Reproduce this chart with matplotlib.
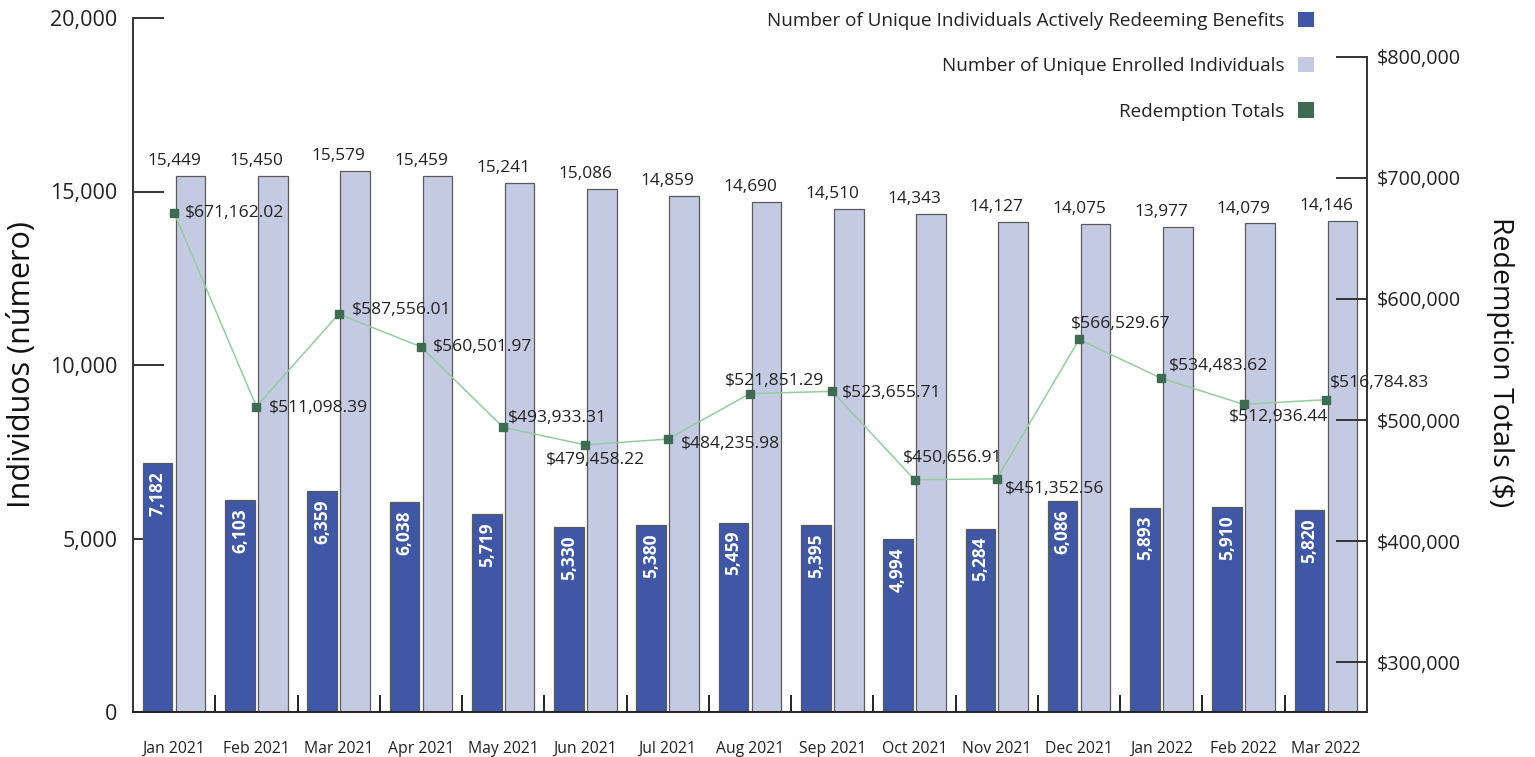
import matplotlib
matplotlib.use("Agg")
import matplotlib.pyplot as plt
import numpy as np
from matplotlib.ticker import FixedLocator, FuncFormatter
from matplotlib.patches import Patch

months = ["Jan 2021", "Feb 2021", "Mar 2021", "Apr 2021", "May 2021", "Jun 2021",
          "Jul 2021", "Aug 2021", "Sep 2021", "Oct 2021", "Nov 2021", "Dec 2021",
          "Jan 2022", "Feb 2022", "Mar 2022"]
active = [7182, 6103, 6359, 6038, 5719, 5330, 5380, 5459, 5395, 4994, 5284, 6086, 5893, 5910, 5820]
enrolled = [15449, 15450, 15579, 15459, 15241, 15086, 14859, 14690, 14510, 14343, 14127, 14075, 13977, 14079, 14146]
redemption = [671162.02, 511098.39, 587556.01, 560501.97, 493933.31, 479458.22, 484235.98,
              521851.29, 523655.71, 450656.91, 451352.56, 566529.67, 534483.62, 512936.44, 516784.83]
left_ticks = [0, 5000, 10000, 15000, 20000]
right_ticks = [300000, 400000, 500000, 600000, 700000, 800000]
series_names = ["Number of Unique Individuals Actively Redeeming Benefits",
                "Number of Unique Enrolled Individuals", "Redemption Totals"]

# label offsets for redemption labels (pixels: dx from marker to label left edge, dy up)
red_offsets = [(11, 0), (12, -1), (13, 4), (12, 0), (5, 9), (-40, -15), (13, -5),
               (-25, 13), (10, -2), (-12, 22), (8, -10), (-8, 15), (8, 12), (-15, -13), (4, 17)]

DARK = "#3f57a4"
LIGHT = "#c5cae3"
GREEN_M = "#3e6b52"
GREEN_L = "#95cc9f"
EDGE = "#5a5a5a"
FONT = "Open Sans"

W, H = 1535, 757
fig = plt.figure(figsize=(W / 100, H / 100), dpi=100)
ax = fig.add_axes([133 / W, 1 - 712 / H, (1367 - 133) / W, (712 - 18) / H])
ax2 = ax.twinx()

x = np.arange(len(months))
bw = 0.36
ax.bar(x - 0.2, active, width=bw, color=DARK, edgecolor=EDGE, linewidth=0.9, zorder=2)
ax.bar(x + 0.2, enrolled, width=bw, color=LIGHT, edgecolor=EDGE, linewidth=0.9, zorder=2)
ax.set_xlim(-0.5, len(months) - 0.5)
ax.set_ylim(0, 20000)

# right axis scale
ax2.set_ylim(258678, 832231)
ax2.plot(x, redemption, color=GREEN_L, linewidth=1.1, zorder=3)
ax2.plot(x, redemption, linestyle="none", marker="s", markersize=5.5, color=GREEN_M, zorder=4)

# labels
for i in range(len(x)):
    ax.annotate(f"{enrolled[i]:,}", (x[i], enrolled[i]), xytext=(0, 5), textcoords="offset points",
                ha="center", va="bottom", fontsize=12.4, family=FONT, color="#222222")
    ax.annotate(f"{active[i]:,}", (x[i] - 0.2, active[i]), xytext=(0, -6), textcoords="offset points",
                ha="center", va="top", rotation=90, fontsize=12.5, fontweight="bold",
                family=FONT, color="white", zorder=5)
    dx, dy = red_offsets[i]
    ax2.annotate(f"${redemption[i]:,.2f}", (x[i], redemption[i]), xytext=(dx * 0.72, dy * 0.72),
                 textcoords="offset points", ha="left", va="center", fontsize=12.6,
                 family=FONT, color="#222222", zorder=6)

# spines and ticks
for s in ["top", "right"]:
    ax.spines[s].set_visible(False)
for s in ["top", "left", "bottom"]:
    ax2.spines[s].set_visible(False)
ax.spines["left"].set_color("#333333")
ax.spines["left"].set_linewidth(1.4)
ax.spines["bottom"].set_color("#222222")
ax.spines["bottom"].set_linewidth(1.4)
ax2.spines["right"].set_color("#333333")
ax2.spines["right"].set_linewidth(1.4)
ax2.spines["right"].set_bounds(258678, 800000)

ax.set_yticks(left_ticks)
ax.yaxis.set_major_formatter(FuncFormatter(lambda v, p: f"{int(v):,}"))
ax.tick_params(axis="y", direction="in", length=22, width=1.4, color="#333333", pad=11,
               labelsize=15.5, labelcolor="#222222")
ax2.set_yticks(right_ticks)
ax2.yaxis.set_major_formatter(FuncFormatter(lambda v, p: f"${int(v):,}"))
ax2.tick_params(axis="y", direction="in", length=22, width=1.4, color="#333333", pad=7,
                labelsize=14.2, labelcolor="#222222")

ax.set_xticks(x)
ax.set_xticklabels(months)
ax.xaxis.set_minor_locator(FixedLocator(np.arange(0.5, len(months) - 1, 1.0)))
ax.tick_params(axis="x", which="major", length=0, pad=21, labelsize=11.3, labelcolor="#222222")
ax.tick_params(axis="x", which="minor", direction="in", length=12, width=1.4, color="#222222")

for lab in ax.get_yticklabels() + ax2.get_yticklabels() + ax.get_xticklabels():
    lab.set_family(FONT)

fig.text(22 / W, 1 - 365 / H, "Individuos (número)", fontsize=22, family=FONT, rotation=90,
         ha="center", va="center", color="#111111")
fig.text(1500 / W, 1 - 362 / H, "Redemption Totals ($)", fontsize=20.5, family=FONT, rotation=270,
         ha="center", va="center", color="#111111")

handles = [Patch(facecolor=DARK, edgecolor="none"), Patch(facecolor=LIGHT, edgecolor="none"),
           Patch(facecolor=GREEN_M, edgecolor="none")]
leg = fig.legend(handles, series_names, loc="upper right", bbox_to_anchor=(1322 / W, 1 - 4 / H),
                 frameon=False, markerfirst=False, prop={"family": FONT, "size": 13.6},
                 labelspacing=1.45, handlelength=0.85, handleheight=0.85, handletextpad=0.75,
                 borderaxespad=0)
for t in leg.get_texts():
    t.set_color("#222222")

fig.savefig("out.png", dpi=100)
